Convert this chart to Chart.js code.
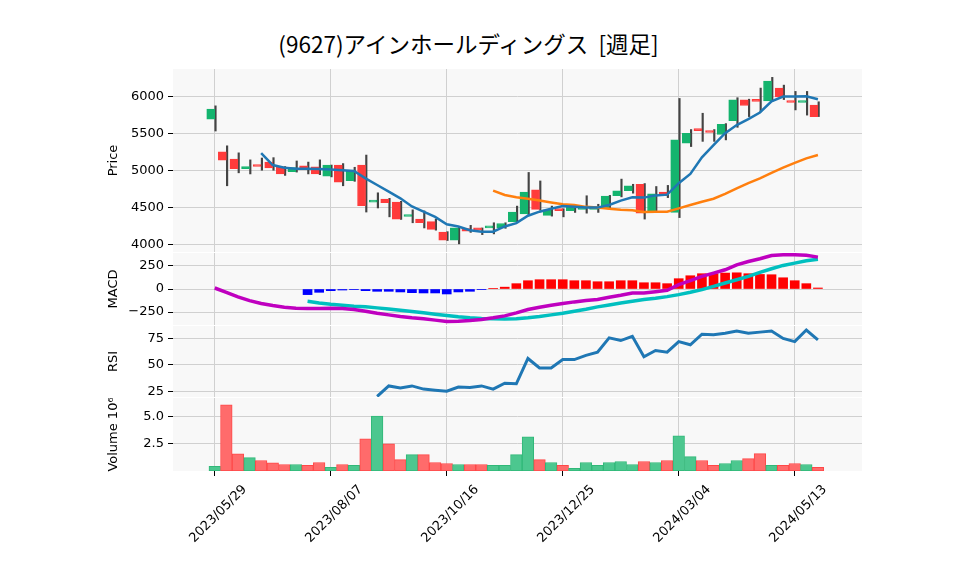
<!DOCTYPE html>
<html>
<head>
<meta charset="utf-8">
<script src="https://cdn.jsdelivr.net/npm/chart.js@4"></script>
<style>
  body { margin: 0; background: #fff; width: 958px; height: 575px; position: relative; overflow: hidden; }
  canvas { position: absolute; left: 0; }
  #title { position: absolute; top: 27px; left: 0; width: 937px; text-align: center;
           font: 22.5px "Noto Sans CJK JP", "DejaVu Sans", sans-serif; color: #000; }
</style>
</head>
<body>
<div id="title">(9627)アインホールディングス&nbsp;&nbsp;[週足]</div>
<canvas id="cPrice"></canvas>
<canvas id="cMacd"></canvas>
<canvas id="cRsi"></canvas>
<canvas id="cVol"></canvas>
<script>
"use strict";
// weekly candles, index 0 = 2023/05/29
const dateLabels = ['2023/05/29', '2023/08/07', '2023/10/16', '2023/12/25', '2024/03/04', '2024/05/13'];
const dateIdx = [0, 10, 20, 30, 40, 50];

const opens  = [5700,5260,5160,5030,5080,5120,5055,4990,5070,5055,4930,5080,4870,5080,4580,4620,4580,4385,4350,4315,
                4175,4065,4220,4230,4230,4230,4315,4420,4745,4400,4490,4465,4480,4480,4500,4665,4735,4820,4450,4715,
                4440,5375,5570,5540,5495,5680,5960,5955,5945,6120,5945,5925,5890];
const closes = [5835,5145,5030,5060,5060,5040,4960,5045,5030,4960,5080,4850,5010,4530,4600,4570,4350,4400,4300,4210,
                4065,4230,4185,4200,4250,4290,4445,4715,4480,4475,4465,4515,4500,4495,4660,4730,4800,4430,4690,4665,
                5420,5510,5545,5520,5630,5960,5885,5940,6215,6000,5925,5945,5735];
const highs  = [5880,5340,5245,5150,5175,5180,5060,5135,5120,5150,5080,5100,5050,5215,4705,4630,4590,4475,4460,4350,
                4180,4240,4265,4230,4300,4300,4525,4980,4865,4525,4490,4515,4665,4550,4670,4890,4820,4830,4790,4805,
                5980,5560,5780,5560,5640,5990,5970,6120,6265,6160,6075,6075,5935];
const lows   = [5540,4800,4975,4960,5010,5010,4940,4985,4960,4950,4920,4800,4860,4445,4500,4380,4345,4300,4230,4200,
                4060,4015,4170,4140,4150,4225,4310,4410,4470,4390,4380,4440,4430,4440,4490,4650,4700,4350,4440,4640,
                4370,5330,5400,5400,5420,5590,5735,5800,5940,5965,5825,5755,5735];
const ma5  = [null,null,null,null,5240,5080,5045,5030,5030,5025,5020,5010,5000,4900,4810,4720,4630,4520,4450,4380,
              4280,4250,4200,4180,4180,4250,4295,4395,4450,4490,4525,4515,4505,4505,4540,4600,4645,4640,4670,4680,
              4835,4960,5185,5350,5510,5620,5700,5790,5940,6005,6005,6010,5970];
const ma25 = [null,null,null,null,null,null,null,null,null,null,null,null,null,null,null,null,null,null,null,null,
              null,null,null,null,4735,4675,4645,4625,4600,4575,4550,4540,4515,4505,4490,4475,4468,4445,4450,4450,
              4495,4540,4585,4625,4690,4765,4835,4900,4975,5045,5110,5170,5215];
const macd = [11,-36,-86,-126,-158,-180,-198,-209,-212,-212,-209,-212,-223,-241,-263,-281,-299,-313,-324,-338,
              -353,-349,-342,-331,-313,-292,-259,-223,-198,-176,-158,-140,-126,-115,-90,-68,-43,-43,-29,-14,
              47,90,137,173,209,263,299,328,364,371,371,367,346];
const signal = [null,null,null,null,null,null,null,null,-133,-151,-166,-176,-187,-194,-205,-216,-230,-245,-259,-274,
                -288,-302,-313,-320,-324,-326,-324,-313,-299,-281,-263,-241,-220,-194,-173,-151,-133,-115,-101,-83,
                -61,-36,-7,29,65,101,137,180,220,256,281,306,324];
const hist = [null,null,null,null,null,null,null,null,-61,-36,-18,-11,-7,-18,-25,-25,-32,-40,-43,-43,
              -54,-32,-25,-7,4,20,58,90,101,101,101,90,90,79,79,90,90,68,68,58,
              112,144,166,166,173,176,166,158,155,122,90,58,11];
const rsi = [null,null,null,null,null,null,null,null,null,null,null,null,null,null,20,30,28,30,27,26,
             25,29,28.5,30,27,32.6,32,56,47,47,55,55,59,62,75.6,73,77,57.6,63.6,62,
             72,69,79,78.5,80,82,80,81,82,75,72,83,73.6];
const volume = [0.42,6.08,1.57,1.23,0.96,0.75,0.6,0.6,0.51,0.78,0.33,0.6,0.51,2.95,5.03,2.5,1.05,1.5,1.5,0.78,
                0.69,0.6,0.6,0.6,0.51,0.51,1.5,3.13,1.05,0.78,0.51,0.24,0.78,0.51,0.78,0.87,0.6,0.87,0.78,0.96,
                3.22,1.32,0.96,0.51,0.69,0.96,1.14,1.6,0.51,0.51,0.69,0.6,0.33];

const FONT = { family: 'DejaVu Sans', size: 13 };
const GRID = '#d0d0d0';
const X_MIN = -3.6, X_MAX = 55.8;
const up = closes.map((c, i) => c >= opens[i]);

const pts = arr => arr.map((v, i) => v === null ? null : { x: i, y: v }).filter(p => p);

const bgPlugin = {
    id: 'bg',
    beforeDraw(chart) {
        const a = chart.chartArea, ctx = chart.ctx;
        ctx.save();
        ctx.fillStyle = '#f8f8f8';
        ctx.fillRect(a.left, a.top, a.right - a.left, a.bottom - a.top);
        ctx.restore();
    }
};

function noPad(s) {
    s.paddingTop = 0; s.paddingBottom = 0; s.paddingLeft = 0; s.paddingRight = 0;
}

function makePanel(id, top, height, datasets, y, showX, bottomH) {
    const cv = document.getElementById(id);
    cv.style.top = top + 'px';
    cv.width = 958; cv.height = height;
    cv.style.width = '958px'; cv.style.height = height + 'px';
    return new Chart(cv, {
        data: { datasets },
        options: {
            responsive: false, animation: false, devicePixelRatio: 1,
            layout: { padding: { left: 106, right: 96, top: 0, bottom: 0 } },
            plugins: { legend: { display: false }, tooltip: { enabled: false } },
            scales: {
                x: {
                    type: 'linear', min: X_MIN, max: X_MAX, offset: false,
                    grid: { color: GRID, offset: false, drawTicks: showX, tickLength: 5, tickColor: '#000' },
                    border: { display: false },
                    afterBuildTicks: s => { s.ticks = dateIdx.map(v => ({ value: v })); },
                    afterFit: s => { s.height = bottomH; noPad(s); },
                    ticks: {
                        display: showX, color: '#000', font: FONT, minRotation: 45, maxRotation: 45,
                        labelOffset: 30, padding: 6,
                        callback: v => dateLabels[dateIdx.indexOf(v)]
                    }
                },
                y: Object.assign({
                    grid: { color: GRID, drawTicks: true, tickLength: 5, tickColor: '#000' },
                    border: { display: false },
                    afterFit: s => { s.width = 67; noPad(s); },
                }, y)
            }
        },
        plugins: [bgPlugin]
    });
}

function yAxis(min, max, ticks, title, fmt) {
    return {
        min, max,
        afterBuildTicks: s => { s.ticks = ticks.map(v => ({ value: v })); },
        ticks: { color: '#000', font: FONT, padding: 4, callback: fmt || (v => v) },
        title: { display: true, text: title, color: '#000', font: FONT, padding: { top: 0, bottom: 0 } }
    };
}

// price panel: bodies and wicks as floating bars
makePanel('cPrice', 69, 183, [
    { type: 'bar', data: highs.map((h, i) => ({ x: i, y: [lows[i], h] })), backgroundColor: '#444', barThickness: 1.5, order: 3 },
    { type: 'bar', data: opens.map((o, i) => ({ x: i, y: [o, closes[i]] })),
      backgroundColor: up.map(u => u ? '#14b46e' : '#ff3b3b'), borderColor: up.map(u => u ? '#14b46e' : '#ff3b3b'),
      borderWidth: 1, borderSkipped: false, barThickness: 8, minBarLength: 2, order: 2 },
    { type: 'line', data: pts(ma5), borderColor: '#1f77b4', borderWidth: 2.5, pointRadius: 0, order: 1 },
    { type: 'line', data: pts(ma25), borderColor: '#ff7f0e', borderWidth: 2.5, pointRadius: 0, order: 1 }
], yAxis(3905, 6378, [4000, 4500, 5000, 5500, 6000], 'Price'), false, 0);

makePanel('cMacd', 253, 72, [
    { type: 'bar', data: pts(hist).map(p => ({ x: p.x, y: [0, p.y] })),
      backgroundColor: pts(hist).map(p => p.y < 0 ? '#0000ff' : '#ff0000'), barThickness: 9, order: 3 },
    { type: 'line', data: pts(macd), borderColor: '#bf00bf', borderWidth: 3.5, pointRadius: 0, order: 1 },
    { type: 'line', data: pts(signal), borderColor: '#00bfbf', borderWidth: 3.5, pointRadius: 0, order: 2 }
], yAxis(-391, 391, [-250, 0, 250], 'MACD', v => String(v).replace('-', '\u2212')), false, 0);

makePanel('cRsi', 326, 71, [
    { type: 'line', data: pts(rsi), borderColor: '#1f77b4', borderWidth: 3, pointRadius: 0 }
], yAxis(19.5, 86.8, [25, 50, 75], 'RSI'), false, 0);

makePanel('cVol', 398, 177, [
    { type: 'bar', data: volume.map((v, i) => ({ x: i, y: v })),
      backgroundColor: up.map(u => u ? '#4cc78f' : '#ff6b6b'), borderColor: up.map(u => u ? '#30b878' : '#ff4848'),
      borderWidth: 1, borderSkipped: false, barThickness: 11.6 }
], yAxis(0, 6.7, [2.5, 5.0], 'Volume 10\u2076', v => v.toFixed(1)), true, 104);
</script>
</body>
</html>
